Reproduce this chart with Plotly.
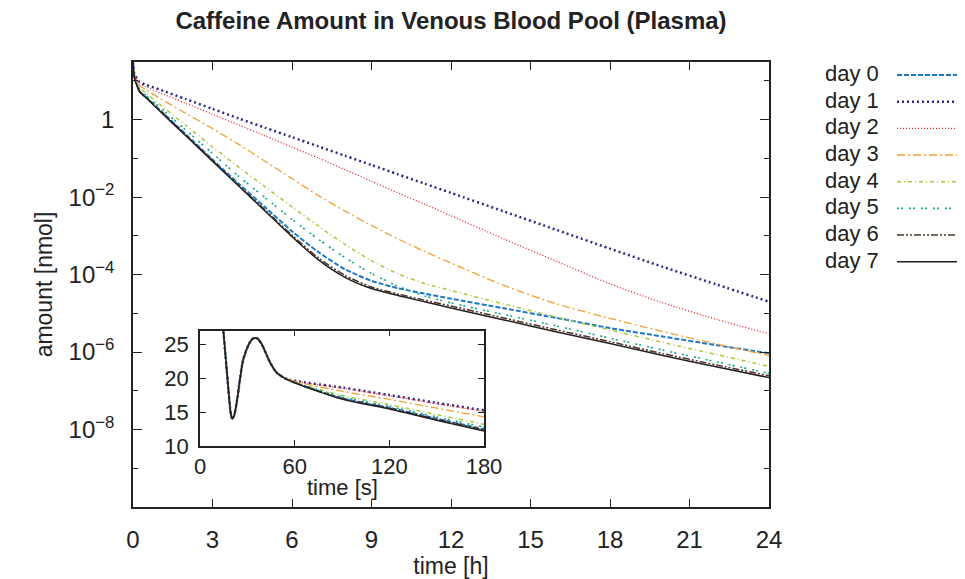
import plotly.graph_objects as go

# ---------------- data ----------------
days = ["day 0", "day 1", "day 2", "day 3", "day 4", "day 5", "day 6", "day 7"]

# shared early phase (seconds, nmol) – identical for all days
early_t_s = [10, 14.8, 16.9, 18.5, 19.5, 20.5, 21.5, 23.2, 27.5, 31.7, 33.5, 35.0, 36.5, 39.1, 44.4, 48.6, 53.9]
early_amount = [40, 27.0, 21.3, 17.0, 14.8, 14.0, 14.4, 16.3, 22.8, 25.3, 25.8, 25.9, 25.8, 25.0, 22.3, 20.8, 19.96]

# inset part after divergence (seconds, nmol)
inset_t_s = [60, 90, 120, 150, 180]
inset_amount = {
    "day 0": [19.33, 17.05, 15.63, 14.03, 12.47],
    "day 1": [19.60, 18.60, 17.50, 16.35, 15.25],
    "day 2": [19.58, 18.52, 17.40, 16.22, 15.10],
    "day 3": [19.50, 18.07, 16.86, 15.56, 14.30],
    "day 4": [19.40, 17.44, 16.10, 14.62, 13.18],
    "day 5": [19.36, 17.22, 15.84, 14.28, 12.78],
    "day 6": [19.32, 17.00, 15.57, 13.95, 12.38],
    "day 7": [19.30, 16.90, 15.45, 13.80, 12.20],
}

main_t_h = [0.25, 0.5, 1, 2, 3, 4, 5, 6, 7, 8, 9, 10, 11, 12, 14, 16, 18, 20, 22, 24]
main_log10 = {
    "day 0": [0.74, 0.58, 0.26, -0.38, -1.03, -1.66, -2.27, -2.88, -3.42, -3.86, -4.16, -4.35, -4.49, -4.62, -4.87, -5.12, -5.38, -5.60, -5.82, -6.03],
    "day 1": [0.97, 0.90, 0.78, 0.53, 0.28, 0.03, -0.21, -0.45, -0.69, -0.93, -1.17, -1.41, -1.65, -1.89, -2.37, -2.85, -3.33, -3.80, -4.25, -4.70],
    "day 2": [0.93, 0.85, 0.70, 0.42, 0.14, -0.14, -0.42, -0.71, -0.99, -1.29, -1.59, -1.89, -2.18, -2.48, -3.08, -3.66, -4.24, -4.73, -5.15, -5.53],
    "day 3": [0.88, 0.77, 0.56, 0.16, -0.23, -0.64, -1.08, -1.52, -1.96, -2.36, -2.73, -3.08, -3.40, -3.70, -4.28, -4.76, -5.13, -5.47, -5.79, -6.09],
    "day 4": [0.82, 0.68, 0.40, -0.15, -0.70, -1.23, -1.74, -2.25, -2.75, -3.22, -3.64, -3.98, -4.23, -4.41, -4.76, -5.10, -5.43, -5.75, -6.06, -6.37],
    "day 5": [0.78, 0.62, 0.33, -0.27, -0.87, -1.47, -2.02, -2.57, -3.09, -3.56, -3.97, -4.30, -4.55, -4.73, -5.03, -5.33, -5.64, -5.95, -6.25, -6.55],
    "day 6": [0.73, 0.57, 0.25, -0.40, -1.05, -1.70, -2.34, -2.98, -3.57, -4.02, -4.32, -4.50, -4.66, -4.81, -5.12, -5.43, -5.73, -6.04, -6.33, -6.61],
    "day 7": [0.72, 0.56, 0.23, -0.42, -1.07, -1.72, -2.37, -3.02, -3.62, -4.07, -4.36, -4.54, -4.70, -4.86, -5.17, -5.48, -5.78, -6.09, -6.38, -6.66],
}

x_ticks_h = [0, 3, 6, 9, 12, 15, 18, 21, 24]
y_major = [1e-8, 1e-6, 1e-4, 1e-2, 1]
y_major_text = ["10<sup>\u22128</sup>", "10<sup>\u22126</sup>", "10<sup>\u22124</sup>", "10<sup>\u22122</sup>", "1"]
y_minor = [1e-9, 1e-7, 1e-5, 1e-3, 1e-1, 10]
inset_x_ticks = [0, 60, 120, 180]
inset_y_ticks = [10, 15, 20, 25]

# ---------------- styles ----------------
styles = {
    "day 0": dict(color="#1f78c8", width=2.0, dash="5px,2px"),
    "day 1": dict(color="#2b2d8e", width=2.5, dash="2px,3px"),
    "day 2": dict(color="#e8202a", width=1.3, dash="1px,2px"),
    "day 3": dict(color="#f4a033", width=1.3, dash="8px,3px,2px,3px"),
    "day 4": dict(color="#a9c83a", width=1.5, dash="4px,3px,1px,3px"),
    "day 5": dict(color="#17a68c", width=1.6, dash="2px,2px,2px,6px"),
    "day 6": dict(color="#4d3424", width=1.5, dash="7px,2px,2px,2px,2px,2px"),
    "day 7": dict(color="#231f20", width=1.5, dash="solid"),
}

FONT = "Liberation Sans, Arial, Helvetica, sans-serif"
PAGE_W, PAGE_H = 965, 579
OFF = 8  # default page body margin
W, H = PAGE_W - OFF, PAGE_H - OFF
# plot-area edges in page pixels
L, R, T, B = 133, 769, 62, 507

fig = go.Figure()

for d in days:
    xs = [t / 3600 for t in early_t_s] + [t / 3600 for t in inset_t_s] + main_t_h
    ys = early_amount + inset_amount[d] + [10 ** v for v in main_log10[d]]
    fig.add_trace(go.Scatter(x=xs, y=ys, mode="lines", line=dict(styles[d], shape="spline", smoothing=0.7),
                             name=d, showlegend=False, xaxis="x", yaxis="y", hoverinfo="skip"))

for d in days:
    xs = early_t_s + inset_t_s
    ys = early_amount + inset_amount[d]
    fig.add_trace(go.Scatter(x=xs, y=ys, mode="lines", line=dict(styles[d], shape="spline", smoothing=0.8),
                             name=d, showlegend=False, xaxis="x2", yaxis="y2", hoverinfo="skip"))

def px2paper_x(px):
    return (px - L) / (R - L)

def px2paper_y(py):
    return (B - py) / (B - T)

shapes = []
annotations = []
for i, d in enumerate(days):
    ly = 75 + 26.67 * i
    shapes.append(dict(type="line", xref="paper", yref="paper",
                       x0=px2paper_x(897), x1=px2paper_x(966), y0=px2paper_y(ly), y1=px2paper_y(ly),
                       line=dict(color=styles[d]["color"], width=styles[d]["width"], dash=styles[d]["dash"])))
    annotations.append(dict(xref="paper", yref="paper", x=px2paper_x(881), y=px2paper_y(ly - 1.5),
                            text=d, showarrow=False, xanchor="right", yanchor="middle",
                            font=dict(family=FONT, size=22, color="#222")))

# inset x-axis title
annotations.append(dict(xref="x2 domain", yref="paper", x=0.5, y=px2paper_y(487),
                        text="time [s]", showarrow=False, xanchor="center", yanchor="middle",
                        font=dict(family=FONT, size=22, color="#222")))

axis_common = dict(showline=True, linecolor="#222", linewidth=1.5, mirror="ticks", automargin=False,
                   ticks="inside", tickcolor="#222", tickwidth=1.3, showgrid=False, zeroline=False,
                   tickfont=dict(family=FONT, size=24, color="#222"))

ix0, ix1 = px2paper_x(200), px2paper_x(484)
iy0, iy1 = px2paper_y(446), px2paper_y(330.5)

fig.update_layout(
    width=W, height=H,
    margin=dict(l=L - OFF, r=PAGE_W - R, t=T - OFF, b=PAGE_H - B, autoexpand=False),
    paper_bgcolor="white", plot_bgcolor="white",
    font=dict(family=FONT, size=22, color="#222"),
    title=dict(text="<b>Caffeine Amount in Venous Blood Pool (Plasma)</b>",
               x=0.5, xref="paper", xanchor="center", y=1 - (21 - OFF) / H, yref="container", yanchor="middle",
               font=dict(family=FONT, size=24, color="#222")),
    xaxis=dict(axis_common, domain=[0, 1], range=[0, 24], tickmode="array", tickvals=x_ticks_h,
               ticklen=8, ticklabelstandoff=10,
               title=dict(text="time [h]", standoff=6, font=dict(family=FONT, size=23, color="#222"))),
    yaxis=dict(axis_common, type="log", domain=[0, 1], range=[-10, 1.49], tickmode="array",
               tickvals=y_major, ticktext=y_major_text, ticklen=9, ticklabelstandoff=12,
               minor=dict(tickmode="array", tickvals=y_minor, ticklen=5, ticks="inside", tickcolor="#222", tickwidth=1.3),
               title=dict(text="amount [nmol]", standoff=10, font=dict(family=FONT, size=23, color="#222"))),
    xaxis2=dict(axis_common, domain=[ix0, ix1], anchor="y2", range=[0, 180], tickmode="array",
                tickvals=inset_x_ticks, ticklen=6, ticklabelstandoff=0,
                tickfont=dict(family=FONT, size=22, color="#222")),
    yaxis2=dict(axis_common, domain=[iy0, iy1], anchor="x2", range=[10, 27], tickmode="array",
                tickvals=inset_y_ticks, ticklen=6, ticklabelstandoff=5,
                tickfont=dict(family=FONT, size=22, color="#222")),
    shapes=shapes,
    annotations=annotations,
    showlegend=False,
)

fig.write_html("out.html")
